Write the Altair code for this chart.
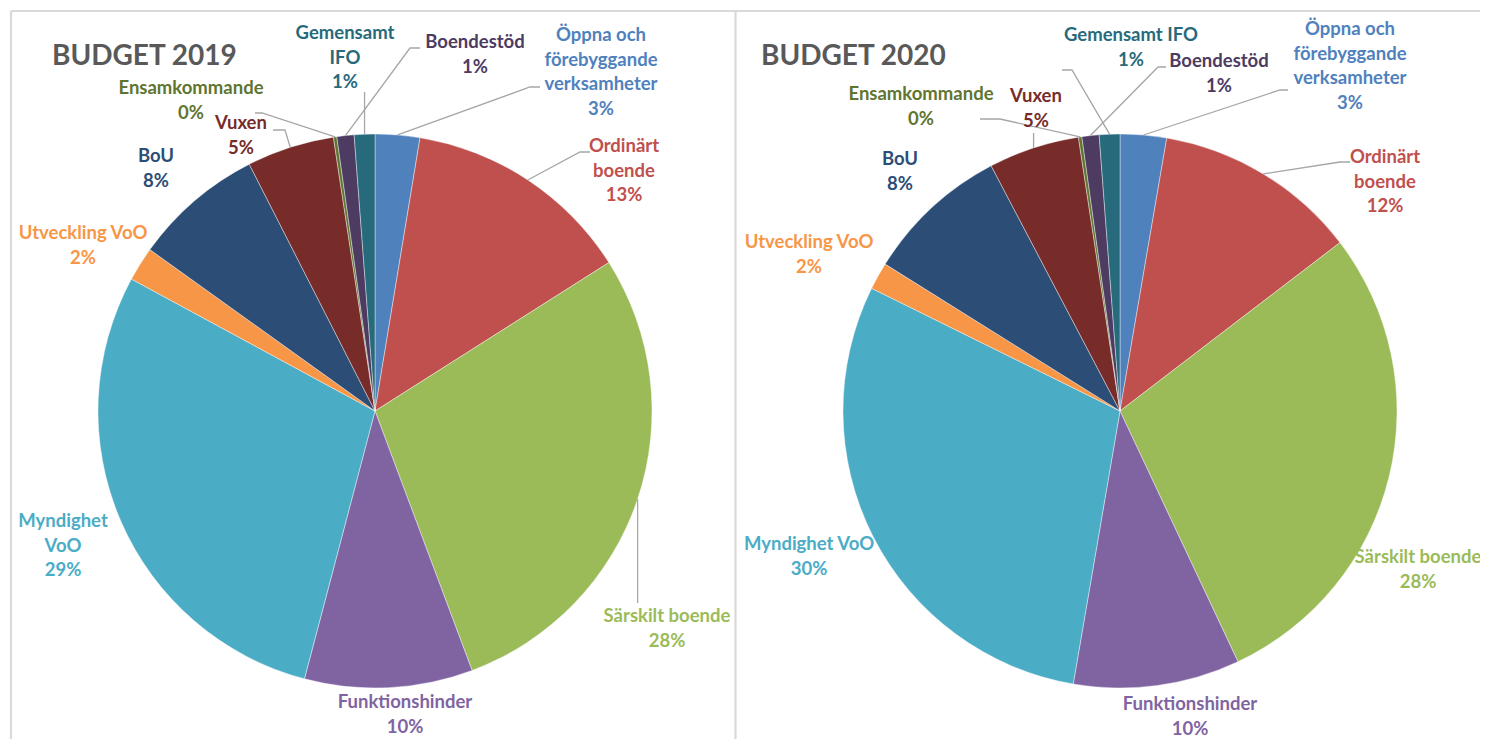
import math
import altair as alt
import pandas as pd

# ---------------- data ----------------
names = [
    "Öppna och förebyggande verksamheter",
    "Ordinärt boende",
    "Särskilt boende",
    "Funktionshinder",
    "Myndighet VoO",
    "Utveckling VoO",
    "BoU",
    "Vuxen",
    "Ensamkommande",
    "Boendestöd",
    "Gemensamt IFO",
]
colors = [
    "#4F81BD", "#C0504D", "#9BBB59", "#8064A2", "#4BACC6", "#F79646",
    "#2C4D75", "#772C2A", "#5F7530", "#4D3B62", "#276A7C",
]
share_2019 = [2.6, 13.4, 28.3, 9.8, 28.8, 2.0, 7.6, 5.1, 0.2, 1.0, 1.2]
share_2020 = [2.7, 11.9, 28.4, 9.7, 29.6, 1.6, 8.4, 5.3, 0.2, 1.0, 1.2]

lines_2019 = [["Öppna och", "förebyggande", "verksamheter"], ["Ordinärt", "boende"],
              ["Särskilt boende"], ["Funktionshinder"], ["Myndighet", "VoO"],
              ["Utveckling VoO"], ["BoU"], ["Vuxen"], ["Ensamkommande"],
              ["Boendestöd"], ["Gemensamt", "IFO"]]
lines_2020 = [["Öppna och", "förebyggande", "verksamheter"], ["Ordinärt", "boende"],
              ["Särskilt boende"], ["Funktionshinder"], ["Myndighet VoO"],
              ["Utveckling VoO"], ["BoU"], ["Vuxen"], ["Ensamkommande"],
              ["Boendestöd"], ["Gemensamt IFO"]]
titles = ["BUDGET 2019", "BUDGET 2020"]

# ---------------- layout (page pixels) ----------------
PAGE_W, PAGE_H, M = 1488, 747, 8
W, H = PAGE_W - 2 * M, PAGE_H - 2 * M
R = 277
LH = 24.5
FONT = "Lato"

panels = [
    dict(cx=375, cy=411, title_xy=(52, 57),
         anchors=[(601, 35), (624, 146), (667, 616), (405, 702), (63, 521), (83, 233),
                  (156, 156), (241, 123), (191, 88), (475, 42), (345, 33)],
         leaders={0: [(530, 87), (540, 87)], 1: [(580, 152), (590, 152)], 2: [(638, 603)],
                  7: [(285, 130), (273, 130)], 8: [(262, 113), (255, 113)],
                  9: [(410, 48), (420, 48)], 10: [(364, 92)]}),
    dict(cx=1120, cy=411, title_xy=(761, 57),
         anchors=[(1350, 29), (1385, 157), (1418, 557), (1190, 704), (809, 544), (809, 242),
                  (900, 159), (1036, 96), (921, 94), (1219, 61), (1131, 35)],
         leaders={0: [(1280, 90), (1288, 90)], 1: [(1340, 162), (1350, 162)],
                  7: [(1034, 133)], 8: [(1000, 119), (980, 119)],
                  9: [(1158, 67), (1166, 67)], 10: [(1072, 70), (1062, 70)]}),
]

xs = alt.Scale(domain=[M, M + W], nice=False, zero=False)
ys = alt.Scale(domain=[M, M + H], nice=False, zero=False, reverse=True)
cscale = alt.Scale(domain=names, range=colors)

layers = []

# frame lines
frame = pd.DataFrame({"x": [11, 11, 735.5], "x2": [1480, 11, 735.5],
                      "y": [11, 11, 11], "y2": [11, 739, 739]})
layers.append(alt.Chart(frame).mark_rule(color="#D9D9D9", strokeWidth=2.2).encode(
    x=alt.X("x:Q", scale=xs, axis=None), x2="x2:Q",
    y=alt.Y("y:Q", scale=ys, axis=None), y2="y2:Q"))

text_rows, leader_rows, title_rows = [], [], []
for p, (shares, lines, title) in enumerate(zip([share_2019, share_2020],
                                               [lines_2019, lines_2020], titles)):
    lay = panels[p]
    df = pd.DataFrame({"name": names, "share": shares, "idx": list(range(len(names)))})
    layers.append(alt.Chart(df).mark_arc(radius=R, stroke="white", strokeWidth=0.4).encode(
        theta=alt.Theta("share:Q", stack=True, scale=alt.Scale(domain=[0, 100])),
        order=alt.Order("idx:Q"),
        color=alt.Color("name:N", scale=cscale, legend=None),
        x=alt.value(lay["cx"] - M), y=alt.value(lay["cy"] - M)))

    total = sum(shares)
    cum = 0.0
    for i, (n, v) in enumerate(zip(names, shares)):
        mid = (cum + v / 2) / total * 2 * math.pi
        cum += v
        ax, ay = lay["anchors"][i]
        for k, t in enumerate(lines[i] + [f"{int(round(v))}%"]):
            text_rows.append(dict(x=ax, y=ay + k * LH, t=t, name=n))
        if i in lay["leaders"]:
            sx = lay["cx"] + R * math.sin(mid)
            sy = lay["cy"] - R * math.cos(mid)
            pts = [(sx, sy)] + lay["leaders"][i]
            if len(pts) == 2 and abs(pts[1][0] - sx) < 6:
                pts[1] = (sx, pts[1][1])
            for s, (px, py) in enumerate(pts):
                leader_rows.append(dict(x=px, y=py, seq=s, lid=f"{p}-{i}"))
    title_rows.append(dict(x=lay["title_xy"][0], y=lay["title_xy"][1], t=title))

layers.append(alt.Chart(pd.DataFrame(leader_rows)).mark_line(
    color="#A6A6A6", strokeWidth=1.3).encode(
    x=alt.X("x:Q", scale=xs, axis=None), y=alt.Y("y:Q", scale=ys, axis=None),
    detail="lid:N", order="seq:Q"))

layers.append(alt.Chart(pd.DataFrame(text_rows)).mark_text(
    font=FONT, fontSize=18.5, fontWeight="bold", align="center", baseline="middle").encode(
    x=alt.X("x:Q", scale=xs, axis=None), y=alt.Y("y:Q", scale=ys, axis=None),
    text="t:N", color=alt.Color("name:N", scale=cscale, legend=None)))

layers.append(alt.Chart(pd.DataFrame(title_rows)).mark_text(
    font=FONT, fontSize=28, fontWeight="bold", align="left", baseline="middle",
    color="#595959").encode(
    x=alt.X("x:Q", scale=xs, axis=None), y=alt.Y("y:Q", scale=ys, axis=None), text="t:N"))

chart = alt.layer(*layers).properties(
    width=W, height=H, padding=0, autosize=alt.AutoSizeParams(type="none"),
    background="white",
).configure_view(stroke=None)

chart.save("out.html", embed_options={"renderer": "svg", "actions": False})
